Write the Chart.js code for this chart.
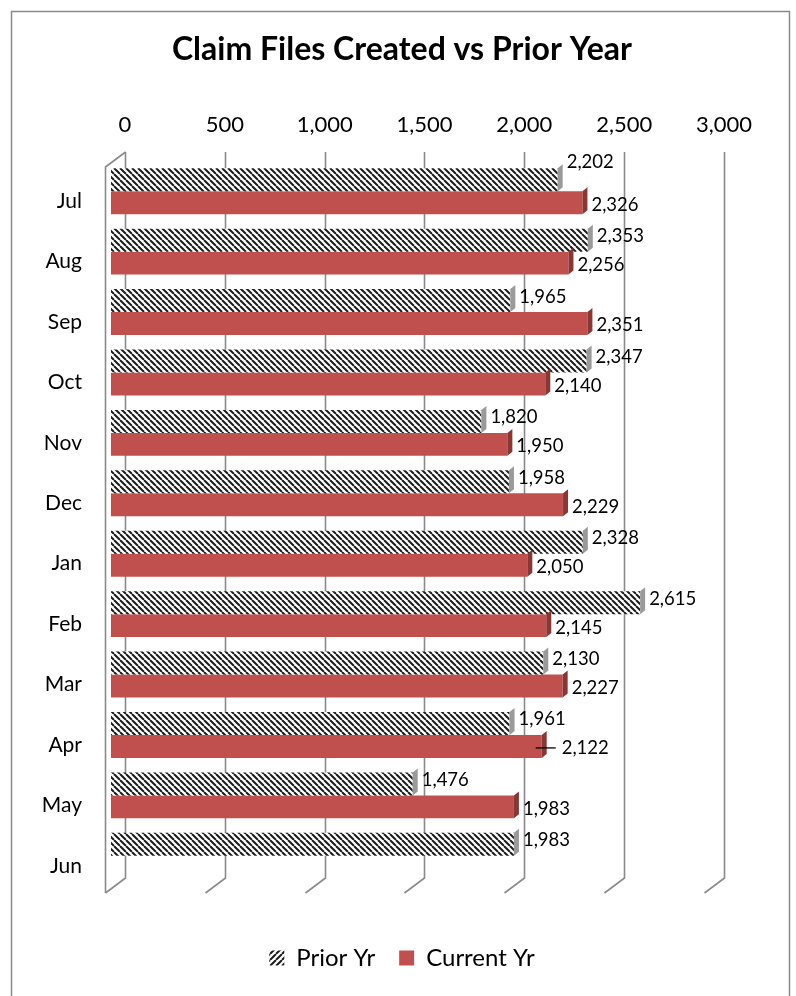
<!DOCTYPE html>
<html><head><meta charset="utf-8">
<script src="https://cdn.jsdelivr.net/npm/chart.js@4.4.1/dist/chart.umd.min.js"></script>
<style>html,body{margin:0;padding:0;background:#fff;}</style>
</head><body>
<canvas id="c" width="796" height="996"></canvas>
<script>
const categories = ['Jul','Aug','Sep','Oct','Nov','Dec','Jan','Feb','Mar','Apr','May','Jun'];
const priorYr = [2202,2353,1965,2347,1820,1958,2328,2615,2130,1961,1476,1983];
const currentYr = [2326,2256,2351,2140,1950,2229,2050,2145,2227,2122,1983,null];
const xTicks = [0,500,1000,1500,2000,2500,3000];
const seriesNames = ['Prior Yr','Current Yr'];
const chartTitle = 'Claim Files Created vs Prior Year';

const canvas = document.getElementById('c');
const ctx = canvas.getContext('2d');
const FONT = 'Lato';
const RED = '#C0504D';

function hatch(size, lw, dir){
  const c = document.createElement('canvas'); c.width = c.height = size;
  const g = c.getContext('2d');
  g.fillStyle = '#fff'; g.fillRect(0,0,size,size);
  g.strokeStyle = '#1c1c1c'; g.lineWidth = lw; g.beginPath();
  for (let k=-1;k<=1;k++){
    if (dir === 'down'){ g.moveTo(k*size,0); g.lineTo(k*size+size,size); }
    else { g.moveTo(k*size,size); g.lineTo(k*size+size,0); }
  }
  g.stroke();
  return ctx.createPattern(c,'repeat');
}
const barHatch = hatch(6, 2.0, 'down');
const legendHatch = hatch(6, 2.0, 'up');
const fmt = v => Number(v).toLocaleString('en-US');

const frame3d = {
  id:'frame3d',
  beforeDraw(chart){
    const c = chart.ctx;
    c.save();
    c.fillStyle='#fff'; c.fillRect(0,0,chart.width,chart.height);
    c.strokeStyle='#8a8a8a'; c.lineWidth=1.5;
    c.strokeRect(11.5,11.5,778,1000);
    c.restore();
  },
  beforeDatasetsDraw(chart){
    const c = chart.ctx, xs = chart.scales.x, a = chart.chartArea;
    const top = a.top - 9, bot = a.bottom - 8, dx = 20, dy = 15, sh = 7;
    c.save();
    c.strokeStyle = '#8a8a8a'; c.lineWidth = 1.6;
    c.beginPath();
    xTicks.forEach(v => {
      const X = Math.round(xs.getPixelForValue(v) + sh) + 0.5;
      c.moveTo(X, top); c.lineTo(X, bot); c.lineTo(X - dx, bot + dy);
    });
    const X0 = Math.round(xs.getPixelForValue(0) + sh) + 0.5;
    c.moveTo(X0, top); c.lineTo(X0 - dx, top + dy); c.lineTo(X0 - dx, bot + dy);
    c.stroke();
    c.restore();
  },
  afterDatasetsDraw(chart){
    const c = chart.ctx;
    c.save();
    chart.data.datasets.forEach((ds, di) => {
      const meta = chart.getDatasetMeta(di);
      meta.data.forEach((bar, i) => {
        const v = ds.data[i];
        if (v === null || v === undefined) return;
        const h = bar.height, t = bar.y - h/2, b = bar.y + h/2, x = bar.x;
        c.fillStyle = di === 0 ? '#9a9a9a' : '#8E3431';
        c.beginPath();
        c.moveTo(x, t); c.lineTo(x+5, t-4); c.lineTo(x+5, b-4); c.lineTo(x, b); c.closePath();
        c.fill();
      });
    });
    c.fillStyle = '#000';
    c.font = '18.5px ' + FONT;
    c.textAlign = 'left'; c.textBaseline = 'middle';
    chart.data.datasets.forEach((ds, di) => {
      const meta = chart.getDatasetMeta(di);
      meta.data.forEach((bar, i) => {
        const v = ds.data[i];
        if (v === null || v === undefined) return;
        let lx = bar.x + 9, ly = di === 0 ? bar.y - 4 : bar.y + 2;
        if (di === 0 && i === 0) ly -= 14;
        if (di === 1 && i === 9) {
          c.save(); c.strokeStyle = '#000'; c.lineWidth = 1.3;
          c.beginPath(); c.moveTo(bar.x - 6, bar.y + 1.5); c.lineTo(bar.x + 14, bar.y + 1.5); c.stroke(); c.restore();
          lx = bar.x + 20;
        }
        c.fillText(fmt(v), lx, ly);
      });
    });
    c.restore();
  }
};

new Chart(ctx, {
  type: 'bar',
  data: {
    labels: categories,
    datasets: [
      { label: seriesNames[0], data: priorYr, backgroundColor: barHatch, borderWidth: 0, categoryPercentage: 0.76, barPercentage: 1, base: -35 },
      { label: seriesNames[1], data: currentYr, backgroundColor: RED, borderWidth: 0, categoryPercentage: 0.76, barPercentage: 1, base: -35 }
    ]
  },
  options: {
    indexAxis: 'y',
    responsive: false,
    animation: false,
    devicePixelRatio: 1,
    layout: { padding: { left: 8, right: 0, top: 0, bottom: 16 } },
    scales: {
      x: {
        position: 'top', min: -35, max: 3000,
        afterBuildTicks: s => { s.ticks = xTicks.map(v => ({ value: v })); },
        grid: { display: false, drawTicks: false }, border: { display: false },
        ticks: { font: { family: FONT, size: 22 }, color: '#000', padding: 23, labelOffset: 7, autoSkip: false, maxRotation: 0, callback: v => fmt(v) },
        afterFit: s => { s.height = 81.8; }
      },
      y: {
        grid: { display: false, drawTicks: false }, border: { display: false },
        ticks: { font: { family: FONT, size: 21 }, color: '#000', padding: 29, labelOffset: 10 },
        afterFit: s => { s.width = 103; }
      },
      xb: {
        type: 'linear', position: 'bottom', display: true,
        grid: { display: false, drawTicks: false }, border: { display: false },
        ticks: { display: false },
        afterFit: s => { s.height = 36; }
      },
      yr: {
        type: 'linear', position: 'right', display: true,
        grid: { display: false, drawTicks: false }, border: { display: false },
        ticks: { display: false },
        afterFit: s => { s.width = 79; }
      }
    },
    plugins: {
      title: { display: true, text: chartTitle, color: '#000', font: { family: FONT, size: 32, weight: 'bold' }, padding: { top: 30.8, bottom: 10 } },
      legend: {
        position: 'bottom',
        labels: {
          font: { family: FONT, size: 24 }, color: '#000', boxWidth: 15, boxHeight: 15, padding: 24,
          generateLabels: chart => Chart.defaults.plugins.legend.labels.generateLabels(chart).map((l, i) => {
            if (i === 0) l.fillStyle = legendHatch;
            l.lineWidth = 0; l.strokeStyle = 'rgba(0,0,0,0)';
            return l;
          })
        }
      },
      tooltip: { enabled: false }
    }
  },
  plugins: [frame3d]
});
</script>
</body></html>
